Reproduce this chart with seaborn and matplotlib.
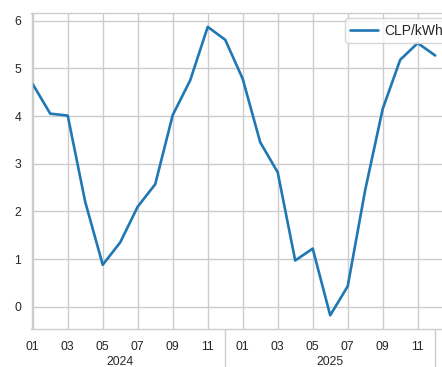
import numpy as np
import pandas as pd
import matplotlib
matplotlib.use("Agg")
import matplotlib.pyplot as plt
import seaborn as sns

# ---- data ----
years = [2024] * 12 + [2025] * 12
months = list(range(1, 13)) * 2
price = [4.67, 4.05, 4.01, 2.20, 0.88, 1.35, 2.10, 2.57, 4.02, 4.75, 5.87, 5.60,
         4.78, 3.45, 2.82, 0.97, 1.22, -0.18, 0.43, 2.45, 4.15, 5.18, 5.53, 5.27]
series_label = "CLP/kWh"
year_labels = ["2024", "2025"]

df = pd.DataFrame({"year": years, "month": months, "value": price})
df["pos"] = np.arange(len(df))

sns.set_theme(style="whitegrid")
plt.rcParams["font.family"] = ["Liberation Sans", "DejaVu Sans"]

fig = plt.figure(figsize=(4.42, 3.67), dpi=100)
W, H = 442, 367
left_px, right_px = 31.5, 452.7
bottom_px, top_px = 328.7, 13.3
ax = fig.add_axes([left_px / W, 1 - bottom_px / H,
                   (right_px - left_px) / W, (bottom_px - top_px) / H])

sns.lineplot(data=df, x="pos", y="value", ax=ax, color="#1f77b4",
             linewidth=1.9, label=series_label)

ax.set_xlim(-0.07, 24.0)
ax.set_ylim(-0.46, 6.155)
ax.set_xlabel("")
ax.set_ylabel("")

# month ticks (every other month)
tick_pos = df["pos"][::2].tolist()
tick_lab = [f"{m:02d}" for m in df["month"][::2]]
ax.set_xticks(tick_pos, labels=tick_lab)
ax.set_yticks([0, 1, 2, 3, 4, 5, 6])
ax.tick_params(axis="x", length=0, pad=9.0, labelsize=8.8, colors="#262626")
ax.tick_params(axis="y", length=0, pad=7.5, labelsize=8.8, colors="#262626")
for s in ax.spines.values():
    s.set_color("#cccccc")
    s.set_linewidth(1.0)

# year grouping axis
ends = df.groupby("year")["pos"].max().tolist()
mids = df.groupby("year")["pos"].median().astype(int).tolist()
sec = ax.secondary_xaxis("bottom")
sec.set_xticks(ends, labels=["" for _ in ends])
sec.tick_params(axis="x", which="major", length=40, width=1.0, color="#cccccc", direction="out")
sec.set_xticks(mids, labels=year_labels, minor=True)
sec.tick_params(axis="x", which="minor", length=0, pad=20.0, labelsize=8.8, colors="#262626")
sec.spines["bottom"].set_visible(False)

leg = ax.legend(loc="upper left", bbox_to_anchor=(0.744, 0.985), borderaxespad=0,
                fontsize=10, frameon=True, handlelength=2.0, handletextpad=0.45,
                borderpad=0.4)
leg.get_frame().set_edgecolor("#cccccc")

fig.savefig("out.png", dpi=100)
